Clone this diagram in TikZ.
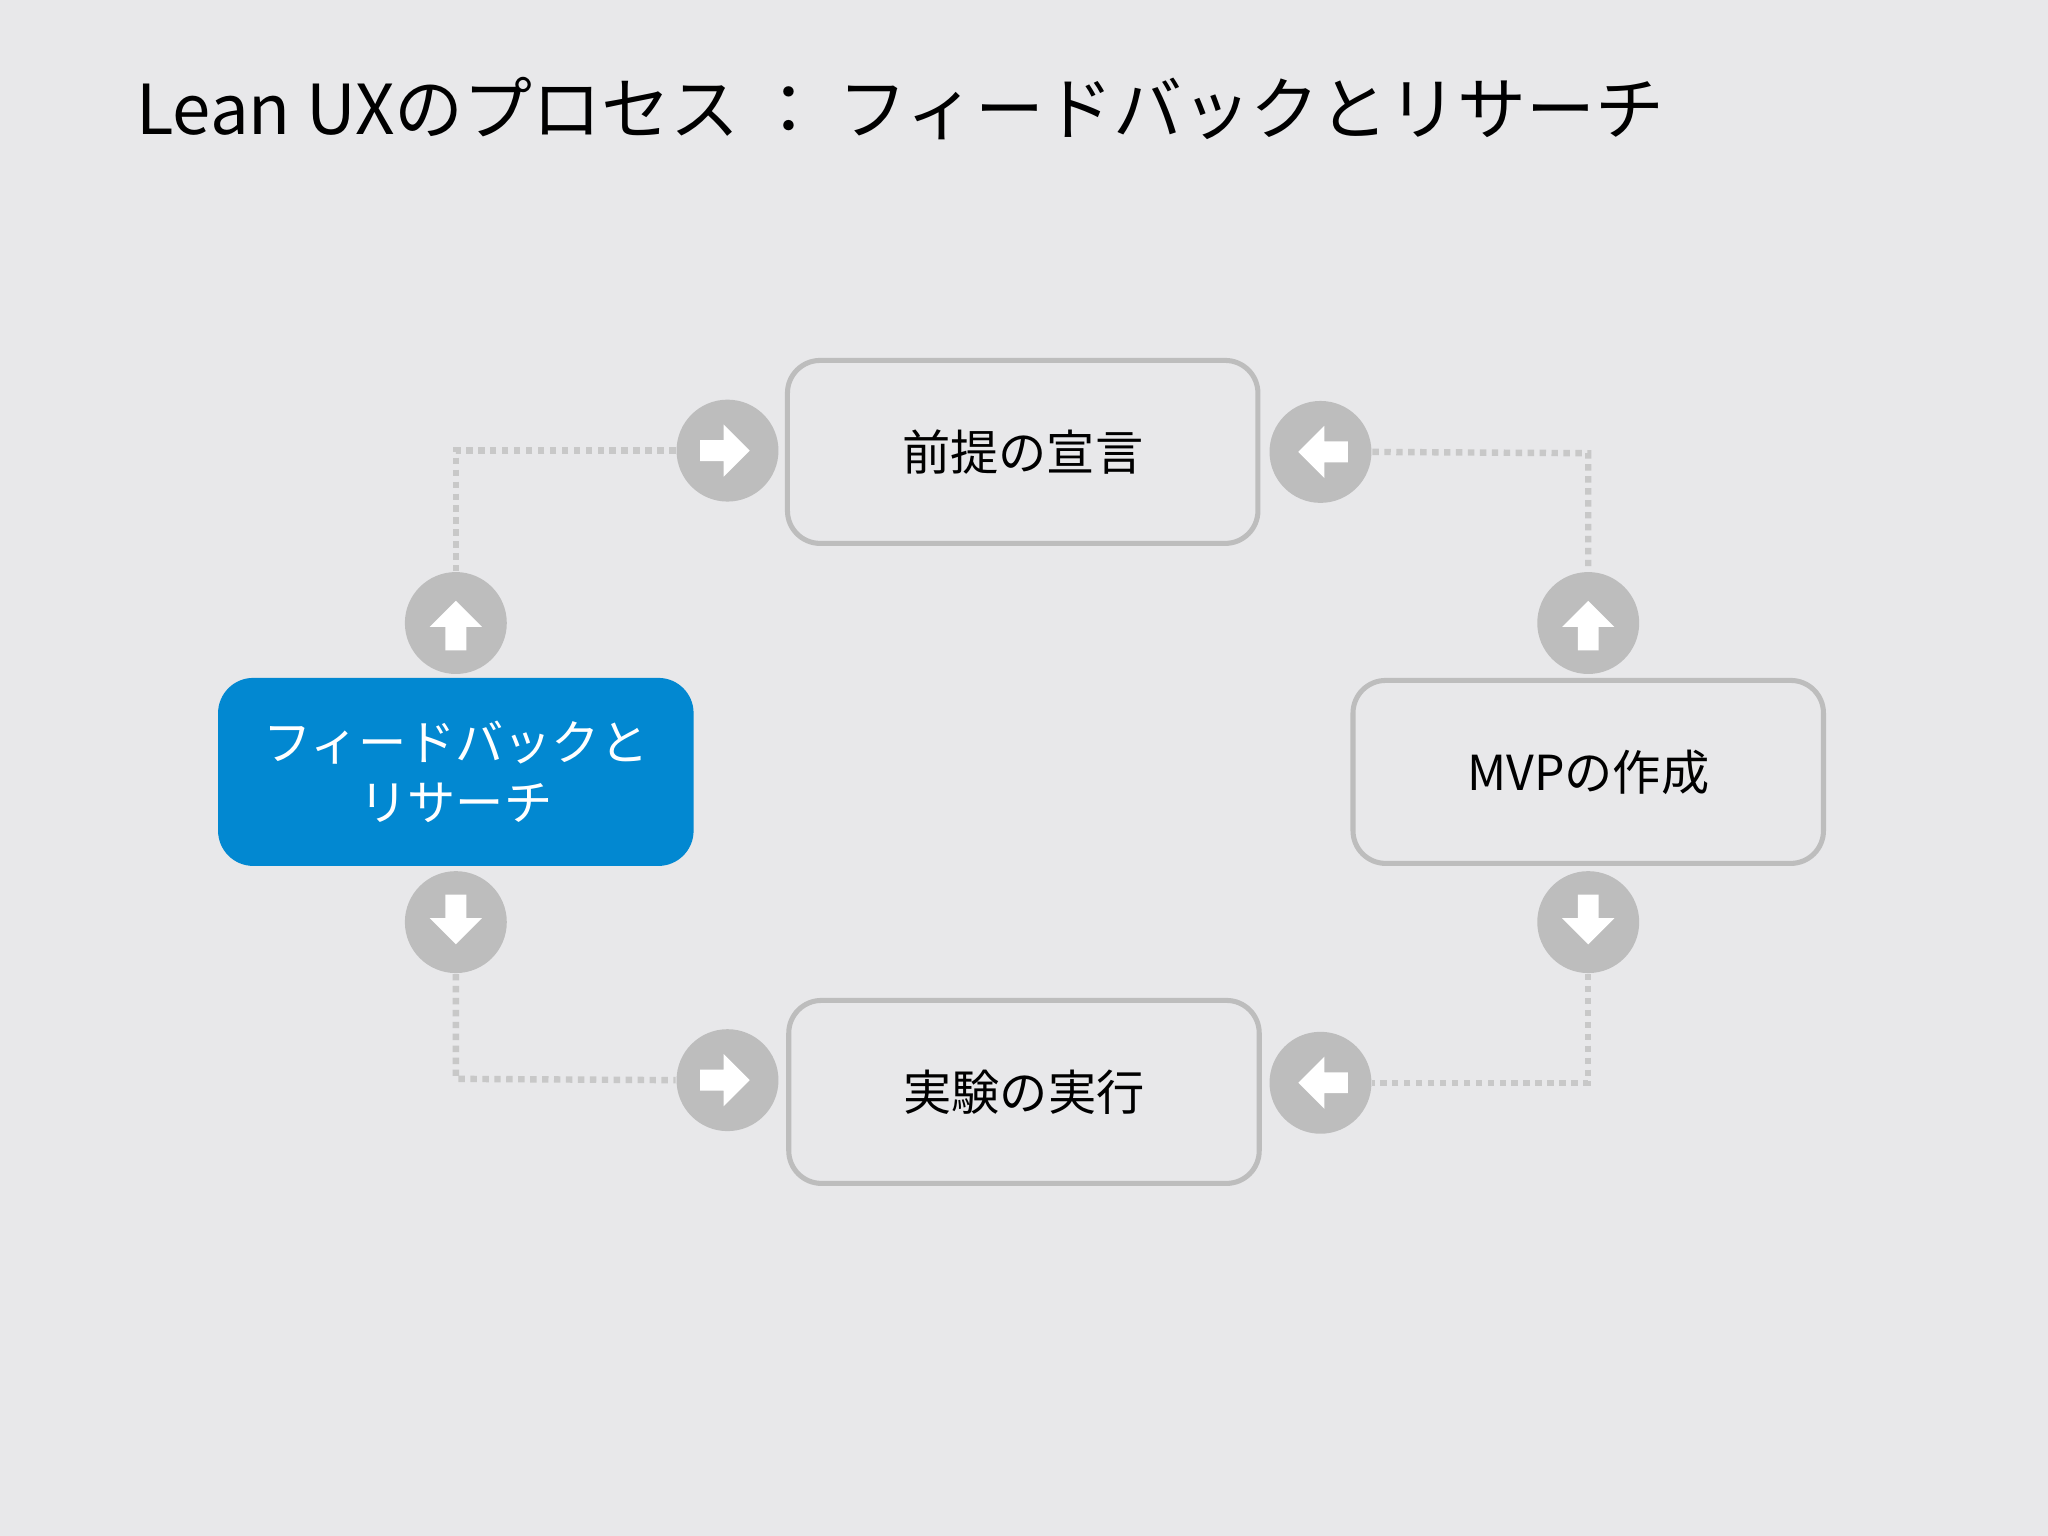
\documentclass[tikz,border=0pt]{standalone}
\usepackage{fontspec}
\setmainfont{Noto Sans CJK JP}
\definecolor{bg}{HTML}{E8E8EA}
\definecolor{bx}{HTML}{BDBDBD}
\definecolor{blu}{HTML}{0288D1}
\definecolor{dt}{HTML}{C8C8C8}
\begin{document}
\begin{tikzpicture}[x=0.01cm,y=-0.01cm,
 box/.style={draw=bx,line width=1.1pt,rounded corners=0.25cm,minimum width=3.6cm,minimum height=1.4cm,align=center,font=\fontsize{10.5pt}{13pt}\selectfont,fill=bg},
 bluebox/.style={box,draw=blu,fill=blu,text=white},
 circ/.style={circle,fill=bx,minimum size=0.78cm,inner sep=0pt},
 dots/.style={dt,line width=1.4pt,dash pattern=on 1.4pt off 1.2pt}]
\fill[bg] (0,0) rectangle (1568,1176);
\node[anchor=base west,font=\fontsize{15pt}{18pt}\selectfont\addfontfeature{}] (title) at (92,103) {Lean UXのプロセス ： フィードバックとリサーチ};
\node[box] (top) at (783,346) {前提の宣言};
\node[box] (right) at (1216,591) {MVPの作成};
\node[box] (bot) at (784,836) {実験の実行};
\node[bluebox] (left) at (349,591) {フィードバックと\\リサーチ};
\node[circ] (c1) at (557,345) {};
\node[circ] (c2) at (1011,346) {};
\node[circ] (c3) at (349,477) {};
\node[circ] (c4) at (1216,477) {};
\node[circ] (c5) at (349,706) {};
\node[circ] (c6) at (1216,706) {};
\node[circ] (c7) at (557,827) {};
\node[circ] (c8) at (1011,829) {};
% arrows: pointing right by default
\foreach \n/\r in {c1/0,c2/180,c3/90,c4/90,c5/-90,c6/-90,c7/0,c8/180}{
 \fill[white,rotate around={\r:(\n)}] ([shift={(-21,-8)}]\n.center) -- ++(18,0) -- ++(0,-12) -- ++(20,20) -- ++(-20,20) -- ++(0,-12) -- ++(-18,0) -- cycle;
}
\draw[dots] (c1.west) -- (349,345) -- (c3.north);
\draw[dots] (c2.east) -- (1216,347) -- (c4.north);
\draw[dots] (c5.south) -- (349,826) -- (c7.west);
\draw[dots] (c6.south) -- (1216,829) -- (c8.east);
\end{tikzpicture}
\end{document}
